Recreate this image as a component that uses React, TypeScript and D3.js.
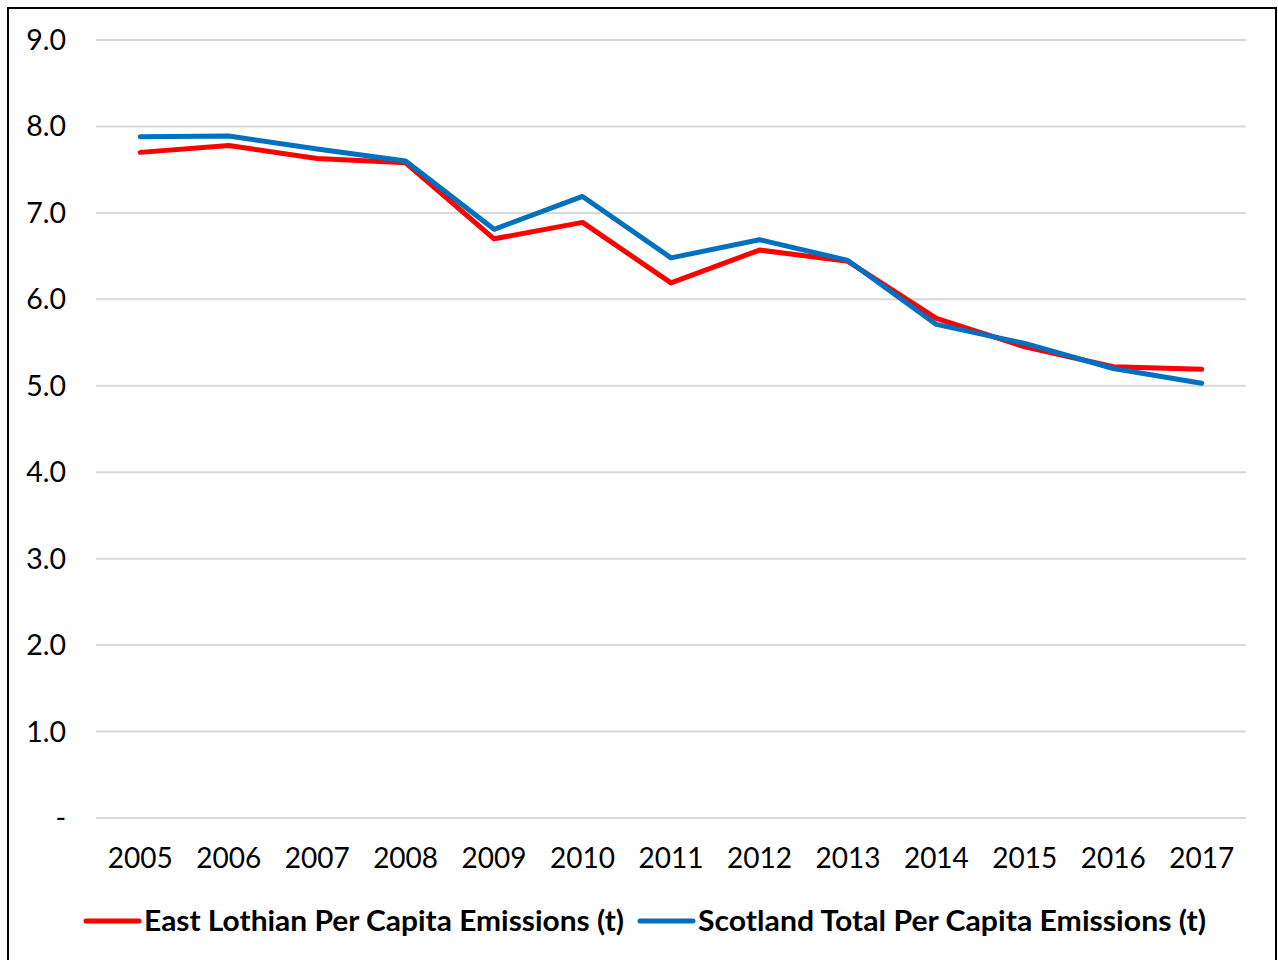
import React, { useEffect, useRef } from 'react'
import * as d3 from 'd3'

const years = ['2005', '2006', '2007', '2008', '2009', '2010', '2011', '2012', '2013', '2014', '2015', '2016', '2017']
const eastLothian = [7.70, 7.78, 7.63, 7.58, 6.70, 6.89, 6.19, 6.57, 6.44, 5.78, 5.45, 5.22, 5.19]
const scotland = [7.88, 7.89, 7.74, 7.60, 6.81, 7.19, 6.48, 6.69, 6.45, 5.71, 5.49, 5.20, 5.03]
const yTicks = [0, 1, 2, 3, 4, 5, 6, 7, 8, 9]
const seriesNames = ['East Lothian Per Capita Emissions (t)', 'Scotland Total Per Capita Emissions (t)']
const seriesColors = ['#ff0000', '#0070c0']

const font = 'Lato, "Open Sans", sans-serif'

export default function App () {
  const ref = useRef<SVGSVGElement>(null)

  useEffect(() => {
    const svg = d3.select(ref.current)
    svg.selectAll('*').remove()

    const margin = { left: 96, right: 1246, top: 40, bottom: 818 }
    const x = d3.scaleBand().domain(years).range([margin.left, margin.right])
    const y = d3.scaleLinear().domain([0, 9]).range([margin.bottom, margin.top])

    // frame
    svg.append('rect')
      .attr('x', 8).attr('y', 8)
      .attr('width', 1268).attr('height', 1000)
      .attr('fill', 'white')
      .attr('stroke', 'black')
      .attr('stroke-width', 2)

    // grid
    svg.append('g')
      .selectAll('line')
      .data(yTicks)
      .join('line')
      .attr('x1', margin.left).attr('x2', margin.right)
      .attr('y1', d => y(d)).attr('y2', d => y(d))
      .attr('stroke', '#d9d9d9')
      .attr('stroke-width', 2)

    // y labels
    svg.append('g')
      .selectAll('text')
      .data(yTicks)
      .join('text')
      .attr('x', 66)
      .attr('y', d => y(d))
      .attr('dy', '0.35em')
      .attr('text-anchor', 'end')
      .attr('font-family', font)
      .attr('font-size', 28.5)
      .attr('fill', '#000')
      .text(d => d === 0 ? '-' : d.toFixed(1))

    // x labels
    svg.append('g')
      .selectAll('text')
      .data(years)
      .join('text')
      .attr('x', d => (x(d) as number) + x.bandwidth() / 2)
      .attr('y', 858)
      .attr('dy', '0.35em')
      .attr('text-anchor', 'middle')
      .attr('font-family', font)
      .attr('font-size', 28)
      .attr('fill', '#000')
      .text(d => d)

    const line = d3.line<number>()
      .x((d, i) => (x(years[i]) as number) + x.bandwidth() / 2)
      .y(d => y(d))

    ;[eastLothian, scotland].forEach((series, i) => {
      svg.append('path')
        .datum(series)
        .attr('fill', 'none')
        .attr('stroke', seriesColors[i])
        .attr('stroke-width', 5)
        .attr('stroke-linecap', 'round')
        .attr('stroke-linejoin', 'round')
        .attr('d', line)
    })

    // legend
    const legendX = [86, 640]
    const legendW = [480, 508]
    const legend = svg.append('g')
    seriesNames.forEach((name, i) => {
      legend.append('line')
        .attr('x1', legendX[i]).attr('x2', legendX[i] + 53)
        .attr('y1', 921).attr('y2', 921)
        .attr('stroke', seriesColors[i])
        .attr('stroke-width', 5)
        .attr('stroke-linecap', 'round')
      legend.append('text')
        .attr('x', legendX[i] + 58)
        .attr('y', 921)
        .attr('dy', '0.35em')
        .attr('font-family', font)
        .attr('font-weight', 'bold')
        .attr('font-size', 29)
        .attr('textLength', legendW[i])
        .attr('lengthAdjust', 'spacingAndGlyphs')
        .attr('fill', '#000')
        .text(name)
    })
  }, [])

  return (
    <svg ref={ref} width={1278} height={960}
      style={{ position: 'absolute', left: 0, top: 0, display: 'block' }} />
  )
}
